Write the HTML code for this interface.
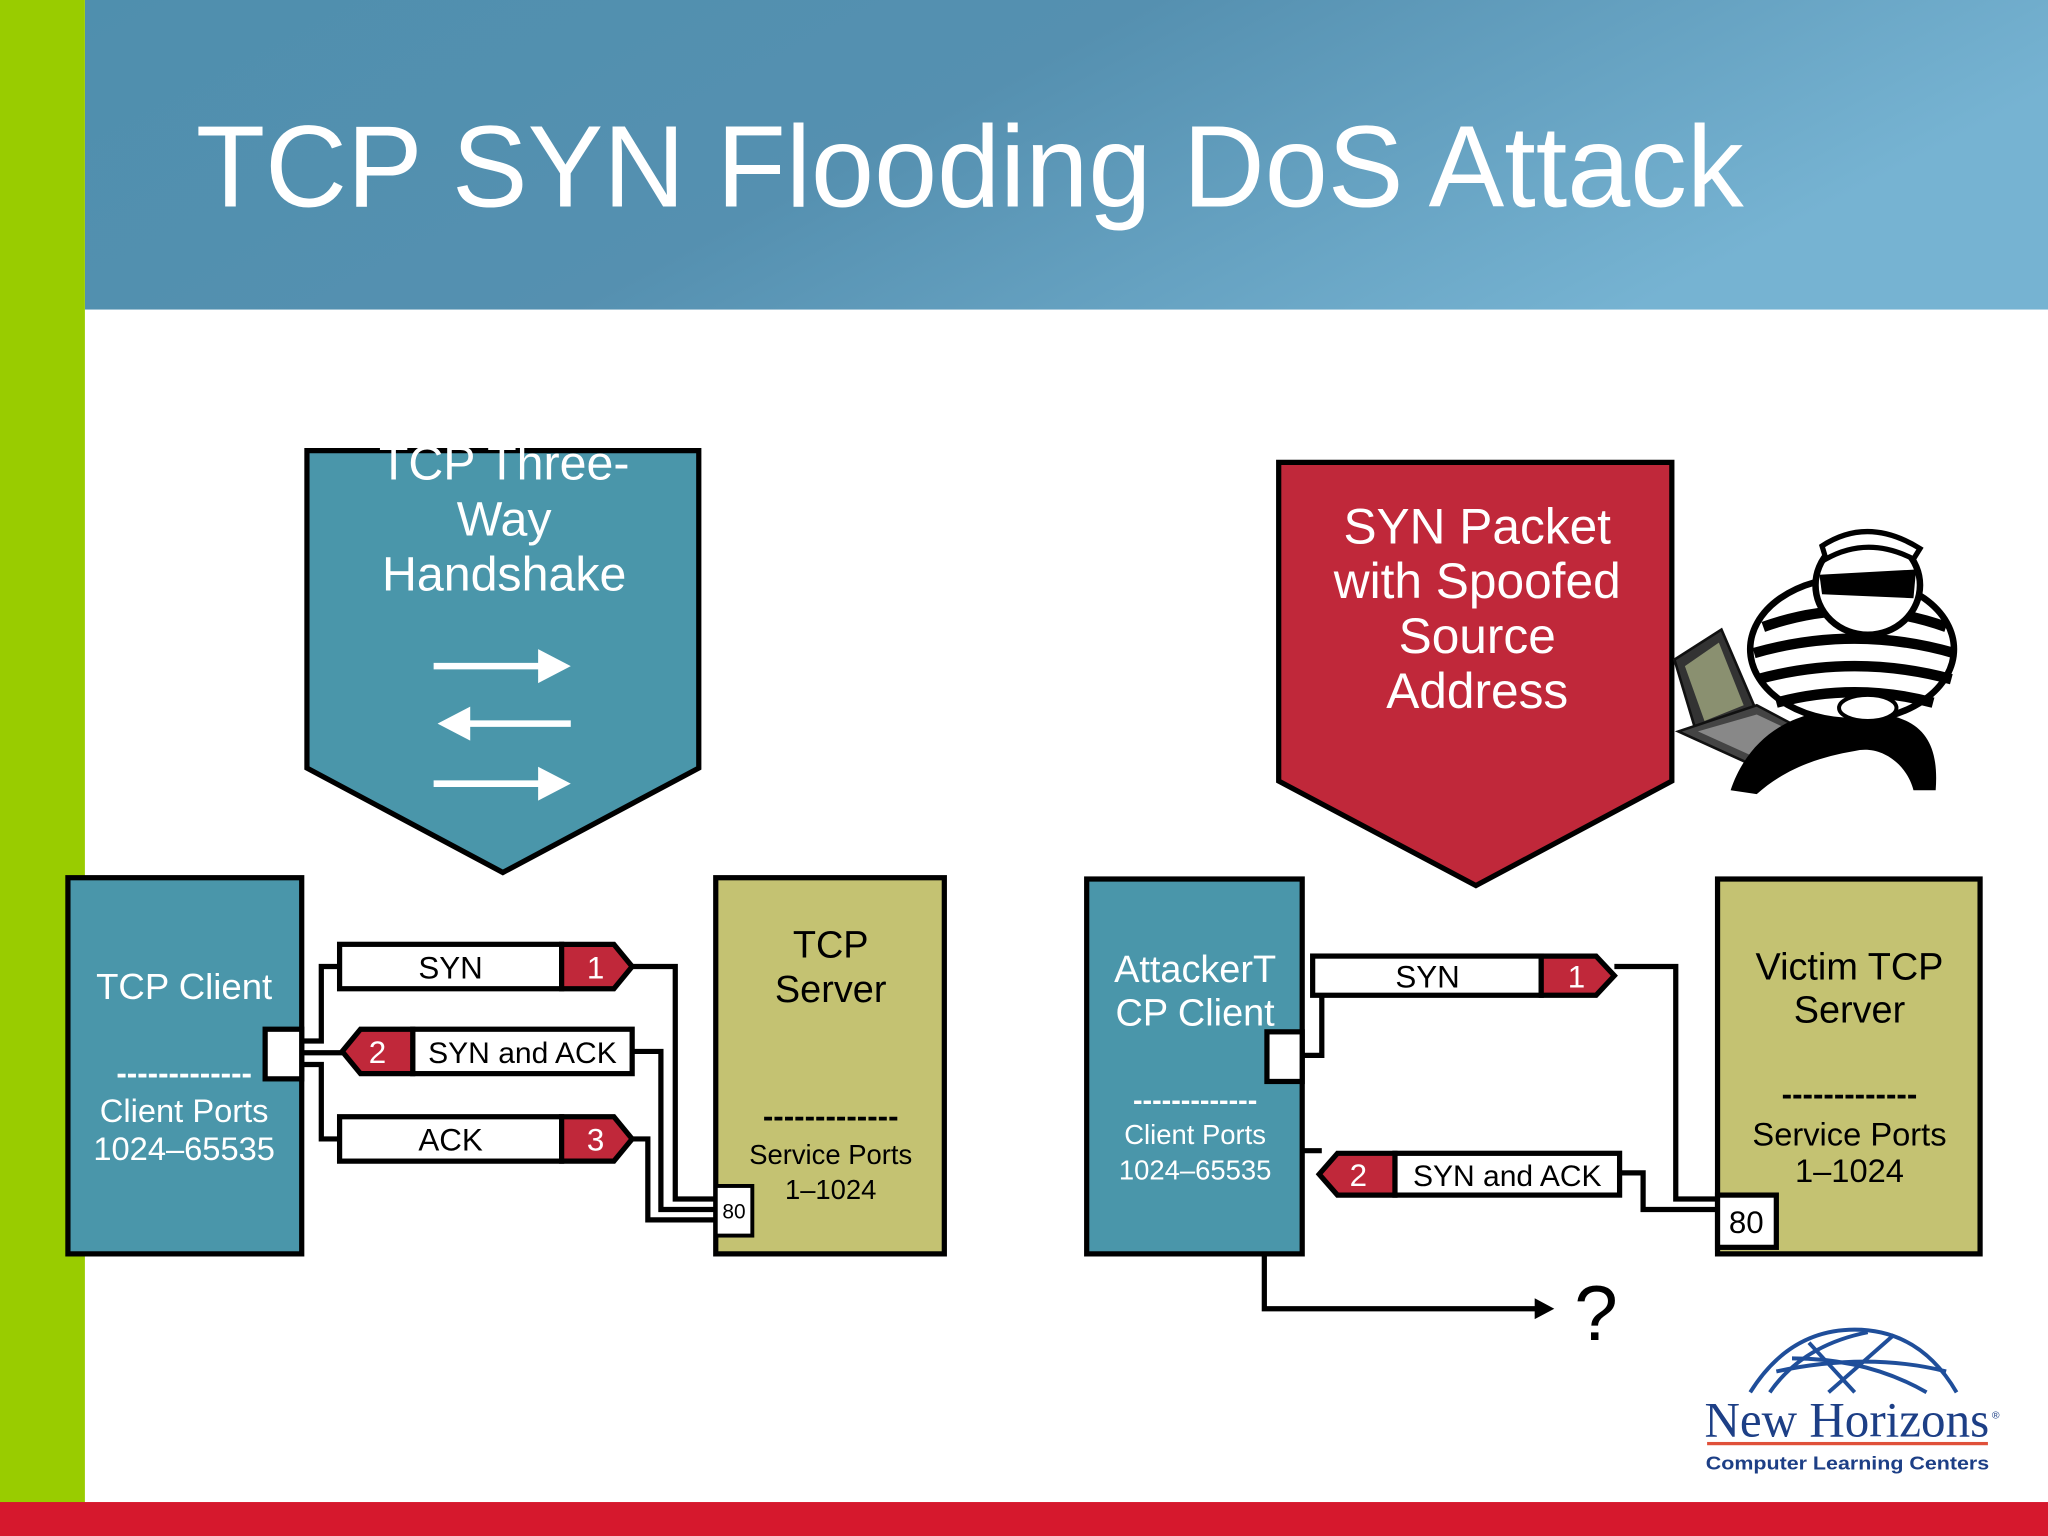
<!DOCTYPE html>
<html><head><meta charset="utf-8"><style>
html,body{margin:0;padding:0;background:#fff;}
svg{display:block;}
text{font-family:"Liberation Sans",Arial,sans-serif;}
text.serif{font-family:"Liberation Serif",serif;}
</style></head><body>
<svg width="2048" height="1536" viewBox="0 0 1568 1176" xmlns="http://www.w3.org/2000/svg">
<defs>
<linearGradient id="hd" x1="0" y1="0" x2="1" y2="0.3">
<stop offset="0" stop-color="#4f8fae"/><stop offset="0.5" stop-color="#5590b0"/><stop offset="1" stop-color="#76b3d2"/>
</linearGradient>
</defs>
<rect x="0" y="0" width="1568" height="1176" fill="#fff"/>
<rect x="65" y="0" width="1503" height="237" fill="url(#hd)"/>
<rect x="0" y="0" width="65" height="1176" fill="#99cc00"/>
<rect x="0" y="1150" width="1568" height="26" fill="#d6182d"/>
<text x="150" y="158" font-size="89" fill="#fff" textLength="1185" lengthAdjust="spacingAndGlyphs">TCP SYN Flooding DoS Attack</text>

<polygon points="235,345 535,345 535,588 385,668 235,588" fill="#4a96aa" stroke="#000" stroke-width="4"/>
<g fill="#fff" font-size="37" text-anchor="middle">
<text x="386" y="367">TCP Three-</text>
<text x="386" y="410">Way</text>
<text x="386" y="452">Handshake</text>
</g>
<g stroke="#fff" stroke-width="5" fill="#fff">
<line x1="332" y1="510" x2="415" y2="510"/><polygon points="412,497 437,510 412,523" stroke="none"/>
<line x1="357" y1="554" x2="437" y2="554"/><polygon points="360,541 335,554 360,567" stroke="none"/>
<line x1="332" y1="600" x2="415" y2="600"/><polygon points="412,587 437,600 412,613" stroke="none"/>
</g>

<polygon points="979,354 1280,354 1280,598 1130,678 979,598" fill="#c0283a" stroke="#000" stroke-width="4"/>
<g fill="#fff" font-size="38" text-anchor="middle">
<text x="1131" y="416">SYN Packet</text>
<text x="1131" y="458">with Spoofed</text>
<text x="1131" y="500">Source</text>
<text x="1131" y="542">Address</text>
</g>

<g>
<polygon points="1282,505 1318,482 1345,545 1300,565" fill="#333" stroke="#111" stroke-width="2"/>
<polygon points="1290,510 1316,492 1335,540 1305,552" fill="#8a9070"/>
<polygon points="1285,560 1345,540 1398,568 1340,585" fill="#444" stroke="#111" stroke-width="2"/>
<polygon points="1300,560 1345,547 1385,566 1340,578" fill="#888"/>
<path d="M1325,605 C1340,560 1380,540 1420,545 C1470,545 1485,565 1482,605 L1465,605 C1460,585 1440,570 1420,575 C1390,580 1365,590 1345,608 Z" fill="#000"/>
<ellipse cx="1418" cy="497" rx="78" ry="55" fill="#fff" stroke="#000" stroke-width="5"/>
<g stroke="#000" stroke-width="8" fill="none">
<path d="M1350,480 Q1420,455 1490,480"/><path d="M1343,500 Q1420,478 1496,500"/><path d="M1346,520 Q1420,500 1494,520"/><path d="M1360,538 Q1420,522 1480,538"/>
</g>
<ellipse cx="1430" cy="448" rx="40" ry="38" fill="#fff" stroke="#000" stroke-width="5"/>
<path d="M1393,440 L1467,436 L1465,458 L1395,455 Z" fill="#000"/>
<path d="M1395,418 Q1430,395 1470,420 L1465,428 Q1430,410 1398,428 Z" fill="#fff" stroke="#000" stroke-width="4"/>
<ellipse cx="1430" cy="542" rx="22" ry="10" fill="#fff" stroke="#000" stroke-width="3"/>
</g>

<rect x="52" y="672" width="179" height="288" fill="#4a96aa" stroke="#000" stroke-width="4"/>
<g fill="#fff" text-anchor="middle">
<text x="141" y="765" font-size="28">TCP Client</text>
<text x="141" y="830" font-size="24" font-weight="bold">-------------</text>
<text x="141" y="859" font-size="25">Client Ports</text>
<text x="141" y="888" font-size="25">1024–65535</text>
</g>
<rect x="203" y="788" width="28" height="38" fill="#fff" stroke="#000" stroke-width="4"/>

<rect x="548" y="672" width="175" height="288" fill="#c4c272" stroke="#000" stroke-width="4"/>
<g fill="#000" text-anchor="middle">
<text x="636" y="733" font-size="29">TCP</text>
<text x="636" y="767" font-size="29">Server</text>
<text x="636" y="863" font-size="24" font-weight="bold">-------------</text>
<text x="636" y="891" font-size="21">Service Ports</text>
<text x="636" y="918" font-size="21">1–1024</text>
</g>
<rect x="548" y="908" width="28" height="38" fill="#fff" stroke="#000" stroke-width="3"/>
<text x="562" y="933" font-size="16" text-anchor="middle">80</text>

<g stroke="#000" stroke-width="4" fill="none">
<polyline points="231,797 246,797 246,740 262,740"/>
<polyline points="231,806 262,806"/>
<polyline points="231,815 246,815 246,872 262,872"/>
<polyline points="484,740 517,740 517,918 548,918"/>
<polyline points="484,805 506,805 506,926 548,926"/>
<polyline points="484,872 496,872 496,934 548,934"/>
</g>
<rect x="260" y="723" width="170" height="34" fill="#fff" stroke="#000" stroke-width="4"/>
<polygon points="430,723 470,723 484,740 470,757 430,757" fill="#c0283a" stroke="#000" stroke-width="4"/>
<text x="345" y="749" font-size="24" text-anchor="middle">SYN</text>
<text x="456" y="749" font-size="24" fill="#fff" text-anchor="middle">1</text>
<rect x="316" y="788" width="168" height="34" fill="#fff" stroke="#000" stroke-width="4"/>
<polygon points="316,788 276,788 262,805 276,822 316,822" fill="#c0283a" stroke="#000" stroke-width="4"/>
<text x="400" y="814" font-size="23" text-anchor="middle">SYN and ACK</text>
<text x="289" y="814" font-size="24" fill="#fff" text-anchor="middle">2</text>
<rect x="260" y="855" width="170" height="34" fill="#fff" stroke="#000" stroke-width="4"/>
<polygon points="430,855 470,855 484,872 470,889 430,889" fill="#c0283a" stroke="#000" stroke-width="4"/>
<text x="345" y="881" font-size="24" text-anchor="middle">ACK</text>
<text x="456" y="881" font-size="24" fill="#fff" text-anchor="middle">3</text>

<rect x="832" y="673" width="165" height="287" fill="#4a96aa" stroke="#000" stroke-width="4"/>
<g fill="#fff" text-anchor="middle">
<text x="915" y="752" font-size="29">AttackerT</text>
<text x="915" y="785" font-size="29">CP Client</text>
<text x="915" y="850" font-size="22" font-weight="bold">-------------</text>
<text x="915" y="876" font-size="21">Client Ports</text>
<text x="915" y="903" font-size="21">1024–65535</text>
</g>
<rect x="970" y="790" width="27" height="38" fill="#fff" stroke="#000" stroke-width="4"/>

<rect x="1315" y="673" width="201" height="287" fill="#c4c272" stroke="#000" stroke-width="4"/>
<g fill="#000" text-anchor="middle">
<text x="1416" y="750" font-size="29">Victim TCP</text>
<text x="1416" y="783" font-size="29">Server</text>
<text x="1416" y="846" font-size="24" font-weight="bold">-------------</text>
<text x="1416" y="877" font-size="25">Service Ports</text>
<text x="1416" y="905" font-size="25">1–1024</text>
</g>
<rect x="1315" y="915" width="45" height="40" fill="#fff" stroke="#000" stroke-width="4"/>
<text x="1337" y="944" font-size="24" text-anchor="middle">80</text>

<g stroke="#000" stroke-width="4" fill="none">
<polyline points="997,808 1012,808 1012,760"/>
<polyline points="1236,740 1283,740 1283,918 1315,918"/>
<polyline points="1240,898 1258,898 1258,926 1315,926"/>
<polyline points="997,881 1012,881"/>
<polyline points="968,960 968,1002 1178,1002"/>
</g>
<polygon points="1175,994 1190,1002 1175,1010" fill="#000"/>
<text x="1222" y="1026" font-size="60" text-anchor="middle">?</text>

<rect x="1005" y="732" width="175" height="30" fill="#fff" stroke="#000" stroke-width="4"/>
<polygon points="1180,732 1222,732 1236,747 1222,762 1180,762" fill="#c0283a" stroke="#000" stroke-width="4"/>
<text x="1093" y="756" font-size="24" text-anchor="middle">SYN</text>
<text x="1207" y="756" font-size="24" fill="#fff" text-anchor="middle">1</text>

<rect x="1068" y="883" width="172" height="32" fill="#fff" stroke="#000" stroke-width="4"/>
<polygon points="1068,883 1024,883 1010,899 1024,915 1068,915" fill="#c0283a" stroke="#000" stroke-width="4"/>
<text x="1154" y="908" font-size="23" text-anchor="middle">SYN and ACK</text>
<text x="1040" y="908" font-size="24" fill="#fff" text-anchor="middle">2</text>

<g stroke="#1f4e9a" stroke-width="3" fill="none">
<path d="M1340,1066 Q1370,1018 1420,1018 Q1470,1018 1498,1066"/>
<path d="M1355,1066 Q1380,1030 1430,1020"/>
<path d="M1372,1040 Q1430,1040 1475,1066"/>
<path d="M1385,1028 L1420,1066"/>
<path d="M1450,1022 L1400,1066"/>
<path d="M1360,1050 Q1430,1035 1490,1050"/>
</g>
<text class="serif" x="1305" y="1100" font-size="38" fill="#1d3f86" textLength="218" lengthAdjust="spacingAndGlyphs">New Horizons</text>
<text x="1525" y="1086" font-size="8" fill="#1d3f86">®</text>
<rect x="1307" y="1104" width="215" height="2.5" fill="#e0503a"/>
<text x="1306" y="1125" font-size="14" font-weight="bold" fill="#1d3f86" textLength="217" lengthAdjust="spacingAndGlyphs">Computer Learning Centers</text>
</svg>
</body></html>
